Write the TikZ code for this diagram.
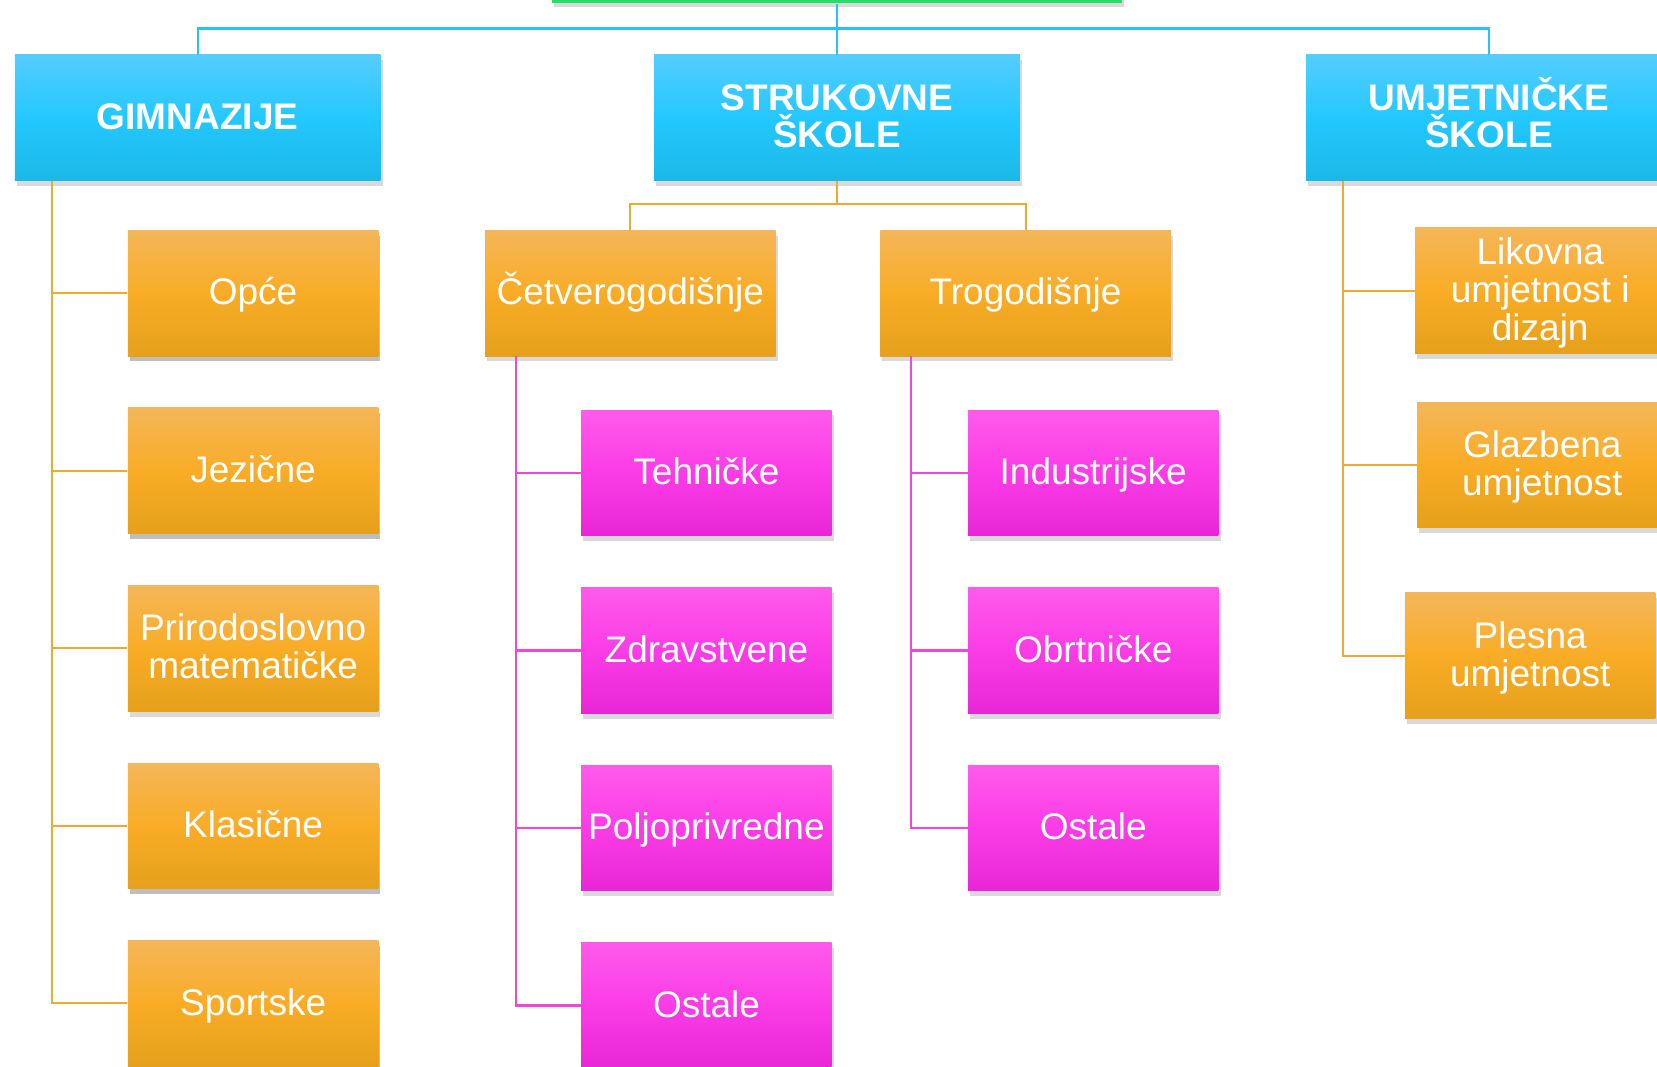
\documentclass[tikz,border=0pt]{standalone}
\usepackage{fontspec}
\setmainfont{Liberation Sans}
\usepackage{tikz}
\usetikzlibrary{shadows}

\definecolor{bluetop}{RGB}{85,205,255}
\definecolor{bluemid}{RGB}{35,200,255}
\definecolor{bluebot}{RGB}{27,184,230}
\definecolor{orangetop}{RGB}{244,182,88}
\definecolor{orangemid}{RGB}{249,172,38}
\definecolor{orangebot}{RGB}{230,160,27}
\definecolor{pinktop}{RGB}{255,90,235}
\definecolor{pinkmid}{RGB}{250,60,230}
\definecolor{pinkbot}{RGB}{232,38,215}
\definecolor{rootgreen}{RGB}{40,220,105}
\definecolor{blueln}{RGB}{40,195,245}
\definecolor{orangeln}{RGB}{240,170,50}
\definecolor{pinkln}{RGB}{240,70,220}

\tikzset{
  box/.style={align=center, text=white, inner sep=2pt, minimum height=59.5pt,
    font=\fontsize{17.5}{18}\selectfont, text height=11pt, text depth=0pt,
    drop shadow={shadow xshift=1pt, shadow yshift=-2.5pt, opacity=.3}},
  twolines/.style={text height=29pt},
  threelines/.style={text height=47pt},
  bluebox/.style={box, minimum width=173pt, font=\fontsize{17.5}{17.5}\selectfont\bfseries,
    top color=bluetop, bottom color=bluebot, middle color=bluemid},
  orangebox/.style={box, minimum width=118.5pt,
    top color=orangetop, bottom color=orangebot, middle color=orangemid},
  widebox/.style={orangebox, minimum width=137.5pt},
  pinkbox/.style={box, minimum width=118.5pt,
    top color=pinktop, bottom color=pinkbot, middle color=pinkmid},
  rootbox/.style={fill=rootgreen, minimum width=270pt, minimum height=30pt,
    drop shadow={shadow xshift=1pt, shadow yshift=-2pt, opacity=.3}},
  blueline/.style={draw=blueln, line width=1pt},
  orangeline/.style={draw=orangeln, line width=1pt},
  pinkline/.style={draw=pinkln, line width=1pt}
}

\begin{document}
\begin{tikzpicture}[x=0.5pt, y=-0.5pt]
    \useasboundingbox (0,0) rectangle (1568,1009); % picture frame

    % top level
    \node[rootbox] (root) at (792,-27) {};
    \node[bluebox] (gim) at (187,111.5) {GIMNAZIJE};
    \node[bluebox, text height=28.5pt] (struk) at (792,111.5) {STRUKOVNE\\ŠKOLE};
    \node[bluebox, text height=28.5pt] (umj) at (1409,111.5) {UMJETNIČKE\\ŠKOLE};

    \coordinate (topbar) at (792,27);
    \draw[blueline] (root.south) -- (topbar);
    \draw[blueline] (topbar) -| (gim.north);
    \draw[blueline] (topbar) -- (struk.north);
    \draw[blueline] (topbar) -| (umj.north);

    % gimnazije
    \coordinate (gimtrunk) at (49,171);
    \foreach \name/\txt/\lines [count=\i from 0] in {opce/Opće/box, jez/Jezične/box,
        prir/{Prirodoslovno\\matematičke}/twolines, klas/Klasične/box, sport/Sportske/box}
    {
        \node[orangebox, \lines] (\name) at (239.5,{277.5+168*\i}) {\txt};
        \draw[orangeline] (gimtrunk) |- (\name.west);
    }

    % strukovne skole
    \node[widebox] (cet) at (596.5,277.5) {Četverogodišnje};
    \node[widebox] (tro) at (970.5,277.5) {Trogodišnje};
    \coordinate (strukfork) at (792,193);
    \draw[orangeline] (struk.south) -- (strukfork) -| (cet.north);
    \draw[orangeline] (strukfork) -| (tro.north);

    \coordinate (cettrunk) at (488,337);
    \foreach \name/\txt [count=\i from 0] in {teh/Tehničke, zdr/Zdravstvene,
        polj/Poljoprivredne, cetost/Ostale}
    {
        \node[pinkbox] (\name) at (668.5,{447.5+168*\i}) {\txt};
        \draw[pinkline] (cettrunk) |- (\name.west);
    }

    \coordinate (trotrunk) at (862,337);
    \foreach \name/\txt [count=\i from 0] in {ind/Industrijske, obrt/Obrtničke,
        troost/Ostale}
    {
        \node[pinkbox] (\name) at (1034.5,{447.5+168*\i}) {\txt};
        \draw[pinkline] (trotrunk) |- (\name.west);
    }

    % umjetnicke skole
    \node[orangebox, threelines] (lik) at (1457.5,275) {Likovna\\umjetnost i\\dizajn};
    \node[orangebox, twolines] (glaz) at (1459.5,440) {Glazbena\\umjetnost};
    \node[orangebox, twolines] (ples) at (1448,620.5) {Plesna\\umjetnost};
    \coordinate (umjtrunk) at (1271,171);
    \foreach \name in {lik,glaz,ples}
        \draw[orangeline] (umjtrunk) |- (\name.west);
\end{tikzpicture}
\end{document}
